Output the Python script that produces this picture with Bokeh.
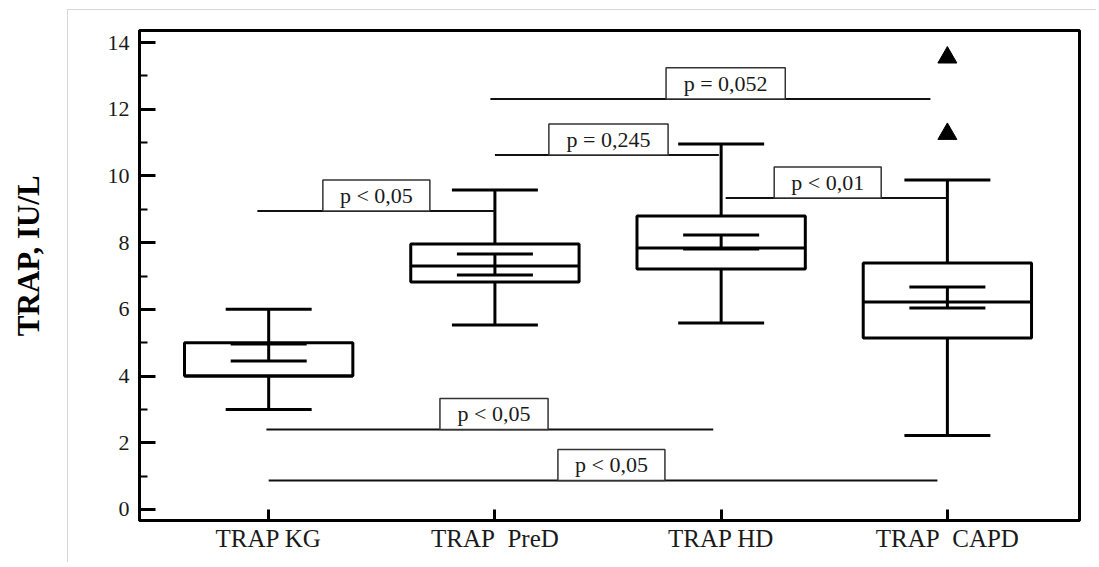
from bokeh.plotting import figure
from bokeh.models import FixedTicker, Range1d, Spacer
from bokeh.layouts import row, column
from bokeh.core.properties import value
from bokeh.embed import file_html
from bokeh.resources import INLINE

# ---- data ----
categories = ["TRAP KG", "TRAP\u00a0 PreD", "TRAP HD", "TRAP\u00a0 CAPD"]
positions = [1, 2, 3, 4]
q1 = [4.0, 6.82, 7.21, 5.14]
q3 = [5.0, 7.96, 8.80, 7.39]
medians = [4.0, 7.30, 7.84, 6.22]
whisker_low = [3.0, 5.53, 5.59, 2.22]
whisker_high = [6.0, 9.58, 10.96, 9.88]
ci_low = [4.45, 7.03, 7.81, 6.04]
ci_high = [4.96, 7.66, 8.23, 6.67]
outlier_pos = [4, 4]
outlier_vals = [13.55, 11.26]

# significance brackets
sig_x0 = [0.95, 2.0, 1.98, 3.02, 0.99, 1.0]
sig_x1 = [2.0, 2.99, 3.925, 4.0, 2.965, 3.956]
sig_y = [8.95, 10.63, 12.31, 9.34, 2.40, 0.87]
sig_text = ["p < 0,05", "p = 0,245", "p = 0,052", "p < 0,01", "p < 0,05", "p < 0,05"]
sig_label_x = [1.476, 2.502, 3.02, 3.471, 1.996, 2.515]
sig_label_w = [0.473, 0.527, 0.527, 0.473, 0.478, 0.473]

yticks = [0, 2, 4, 6, 8, 10, 12, 14]
yminor = [1, 3, 5, 7, 9, 11, 13]
y_title = "TRAP, IU/L"

FONT = "Liberation Serif"
BOX_HW = 0.372
CAP_HW = 0.19
CI_HW = 0.168
LBL_H = 0.93

p = figure(frame_width=939, frame_height=489,
           x_range=Range1d(0.429, 4.584), y_range=Range1d(-0.33, 14.36),
           output_backend="svg", toolbar_location=None,
           min_border_left=71, min_border_top=20, min_border_right=18,
           min_border_bottom=43)
p.styles = {"border-left": "1px solid #d6d6d6", "border-top": "1px solid #d6d6d6"}
p.grid.visible = False
p.outline_line_color = "black"
p.outline_line_width = 3

# axes
p.xaxis.ticker = FixedTicker(ticks=positions)
p.xaxis.major_label_overrides = {pos: c for pos, c in zip(positions, categories)}
p.xaxis.major_tick_in = 11
p.xaxis.major_tick_out = 0
p.xaxis.minor_tick_line_color = None
p.yaxis.ticker = FixedTicker(ticks=yticks, minor_ticks=yminor)
p.yaxis.major_tick_in = 16
p.yaxis.major_tick_out = 0
p.yaxis.minor_tick_in = 8
p.yaxis.minor_tick_out = 0
for ax in (p.xaxis, p.yaxis):
    ax.axis_line_width = 3
    ax.axis_line_color = "black"
    ax.major_tick_line_width = 3
    ax.major_tick_line_color = "black"
    ax.minor_tick_line_width = 2
    ax.minor_tick_line_color = "black"
    ax.major_label_text_font = FONT
    ax.major_label_text_color = "#1a1a1a"
p.xaxis.major_label_text_font_size = "25px"
p.yaxis.major_label_text_font_size = "22px"
p.yaxis.major_label_standoff = 10
p.xaxis.major_label_standoff = 4

# boxes
p.quad(left=[x - BOX_HW for x in positions], right=[x + BOX_HW for x in positions],
       bottom=q1, top=q3, fill_color=None, line_color="black", line_width=3)
p.segment(x0=[x - BOX_HW for x in positions], x1=[x + BOX_HW for x in positions],
          y0=medians, y1=medians, line_color="black", line_width=3)
# whiskers
p.segment(x0=positions, x1=positions, y0=q3, y1=whisker_high, line_color="black", line_width=3)
p.segment(x0=positions, x1=positions, y0=whisker_low, y1=q1, line_color="black", line_width=3)
p.segment(x0=[x - CAP_HW for x in positions], x1=[x + CAP_HW for x in positions],
          y0=whisker_high, y1=whisker_high, line_color="black", line_width=3)
p.segment(x0=[x - CAP_HW for x in positions], x1=[x + CAP_HW for x in positions],
          y0=whisker_low, y1=whisker_low, line_color="black", line_width=3)
# confidence interval markers
p.segment(x0=positions, x1=positions, y0=ci_low, y1=ci_high, line_color="black", line_width=3)
p.segment(x0=[x - CI_HW for x in positions], x1=[x + CI_HW for x in positions],
          y0=ci_low, y1=ci_low, line_color="black", line_width=3)
p.segment(x0=[x - CI_HW for x in positions], x1=[x + CI_HW for x in positions],
          y0=ci_high, y1=ci_high, line_color="black", line_width=3)
# outliers
p.scatter(x=outlier_pos, y=outlier_vals, marker="triangle", size=19,
          fill_color="black", line_color="black")

# significance lines and labels
p.segment(x0=sig_x0, x1=sig_x1, y0=sig_y, y1=sig_y, line_color="#111111", line_width=2)
p.quad(left=[x - w / 2 for x, w in zip(sig_label_x, sig_label_w)],
       right=[x + w / 2 for x, w in zip(sig_label_x, sig_label_w)],
       bottom=sig_y, top=[y + LBL_H for y in sig_y],
       fill_color="white", line_color="#333333", line_width=1.5)
p.text(x=sig_label_x, y=[y + LBL_H / 2 for y in sig_y], text=sig_text,
       text_font=value(FONT), text_font_size="22px", text_color="#1a1a1a",
       text_align="center", text_baseline="middle")

# y axis title panel
lab = figure(width=67, height=561, x_range=Range1d(0, 1), y_range=Range1d(0, 1),
             output_backend="svg", toolbar_location=None, min_border=0)
lab.axis.visible = False
lab.grid.visible = False
lab.outline_line_color = None
lab.text(x=[0.42], y=[0.545], text=[y_title], angle=1.5708,
         text_font=value(FONT), text_font_size="31px", text_font_style="bold",
         text_color="black", text_align="center", text_baseline="middle")

layout = row(lab, column(Spacer(height=9), p))
open("out.html", "w").write(file_html(layout, INLINE))
